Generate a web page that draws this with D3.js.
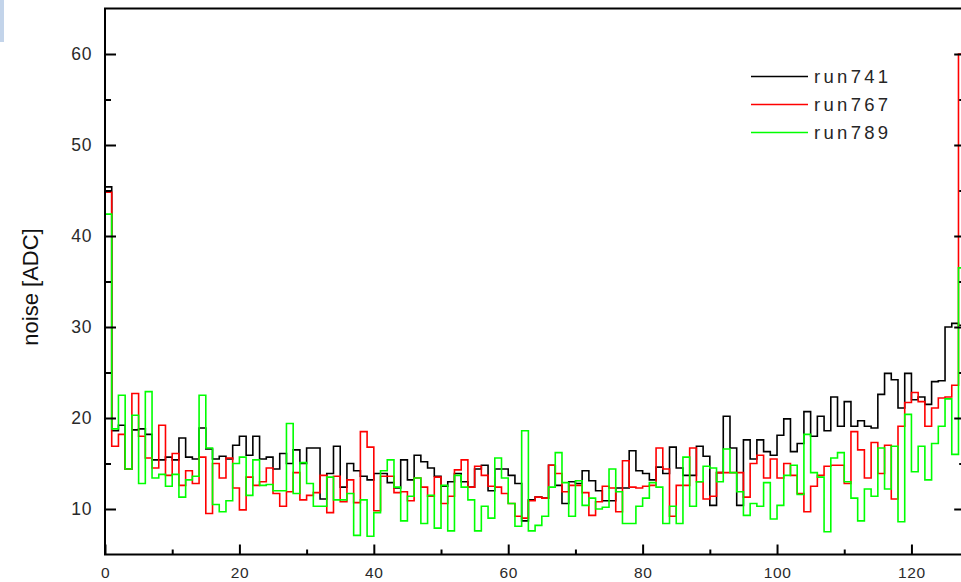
<!DOCTYPE html>
<html>
<head>
<meta charset="utf-8">
<script src="https://cdn.jsdelivr.net/npm/d3@7"></script>
<style>
  html, body { margin: 0; padding: 0; background: #fff; }
  svg { display: block; }
  .tick text { font-family: "Liberation Sans", Arial, sans-serif; }
</style>
</head>
<body>
<svg id="chart" width="961" height="582"></svg>
<script>
// Noise per channel for three runs (channel index 0..127)
const channels = d3.range(128);

const run741 = [45.4,18.6,19.2,14.4,18.7,18.8,18.2,15.4,15.4,15.7,15.4,17.8,15.7,15.5,18.9,16.6,
  15.5,15.8,15.5,17.0,18.0,15.9,18.0,15.5,15.7,14.4,16.1,15.0,16.5,15.0,16.7,16.7,
  11.1,13.9,16.9,12.4,15.0,14.2,13.6,13.2,13.9,13.9,12.9,12.3,15.4,13.2,15.9,15.2,
  14.5,13.6,12.5,13.0,13.9,13.0,12.4,14.4,14.8,12.0,14.4,14.4,13.7,12.8,8.7,11.0,
  11.3,11.2,14.8,12.6,10.6,13.0,12.8,14.2,13.1,12.0,10.9,10.9,12.3,12.3,16.4,14.2,
  13.9,13.2,14.6,13.9,16.8,14.5,13.7,13.7,16.9,15.8,10.4,14.0,20.2,16.7,10.4,17.6,
  15.5,17.6,16.3,15.9,18.1,19.9,16.3,17.2,20.7,18.0,20.2,18.6,22.3,19.1,21.8,19.1,
  19.7,19.1,18.9,22.6,24.9,24.2,21.1,24.9,22.0,22.3,21.5,24.0,24.1,30.0,30.4,30.2];

const run767 = [44.8,16.9,18.2,14.4,22.7,18.0,15.6,14.5,19.2,13.7,16.1,12.6,14.2,12.8,15.7,9.5,
  15.0,13.4,15.6,12.3,9.9,13.5,12.6,13.0,14.5,11.7,10.3,11.9,14.0,11.0,11.5,11.8,
  13.7,9.6,13.6,10.8,13.2,10.7,18.5,16.8,9.8,13.6,13.6,11.8,11.9,10.9,13.4,12.4,
  11.4,13.5,10.6,11.4,14.3,15.4,12.4,14.7,13.7,12.5,12.4,11.7,10.6,9.2,9.0,10.9,
  11.3,11.2,14.8,13.9,11.9,12.6,12.6,11.8,9.3,10.8,12.5,12.3,9.7,15.3,12.4,12.3,
  12.5,12.6,16.7,14.4,9.2,12.6,12.6,16.7,13.0,11.1,11.4,14.0,14.0,14.0,14.0,11.3,
  15.0,15.9,13.4,15.5,13.4,15.0,13.7,11.7,9.7,12.5,13.7,14.7,14.8,14.8,12.8,18.5,
  16.5,13.4,17.3,13.9,17.0,11.1,19.1,21.7,22.8,21.8,19.1,21.1,22.2,22.3,23.6,60.0];

const run789 = [42.4,18.8,22.5,14.4,20.3,12.8,22.9,13.4,13.8,12.5,13.8,11.3,13.2,13.6,22.5,16.7,
  10.5,9.7,10.9,15.0,15.7,11.5,15.4,12.6,12.7,12.0,12.0,19.4,11.7,15.1,12.8,10.3,
  10.3,13.5,11.0,11.0,11.7,7.1,11.0,7.0,9.6,14.2,15.4,12.4,8.7,11.4,13.4,8.4,
  11.5,7.9,12.6,7.6,13.7,12.4,11.0,7.6,10.3,9.0,15.6,13.4,10.6,8.1,18.6,7.6,
  8.2,9.2,12.4,16.2,12.9,9.2,13.1,10.4,11.2,10.0,10.2,14.4,11.9,8.4,8.4,10.3,
  11.2,12.9,12.4,8.4,10.3,8.4,15.7,10.3,13.0,14.7,14.5,13.0,16.6,14.0,11.9,9.3,
  10.6,10.3,12.9,8.9,10.4,13.7,14.8,11.6,18.2,14.0,13.5,7.5,15.6,16.2,13.0,11.2,
  8.7,12.2,11.4,16.7,12.2,16.9,8.6,20.4,14.1,16.9,13.2,17.2,19.1,22.1,16.0,36.5];

const seriesNames = ["run741", "run767", "run789"];
const seriesColors = ["#000000", "#ff0000", "#00ff00"];
const seriesValues = [run741, run767, run789];

const xMajorTicks = [0, 20, 40, 60, 80, 100, 120];
const xMinorTicks = [10, 30, 50, 70, 90, 110];
const yMajorTicks = [10, 20, 30, 40, 50, 60];
const yMinorTicks = [15, 25, 35, 45, 55];
const yTitle = "noise [ADC]";

(function draw() {
  const svg = d3.select("#chart");
  const W = 961, H = 582;

  // plot frame
  const pLeft = 105, pTop = 8.5, pBottom = 554.5;
  const x = d3.scaleLinear().domain([0, 128]).range([pLeft, 965.2]);
  const y = d3.scaleLinear().domain([5, 65]).range([pBottom, pTop]);
  const pRight = x(128);

  svg.append("rect").attr("width", W).attr("height", H).attr("fill", "#fff");

  // small blue block in the corner
  svg.append("rect").attr("x", 0).attr("y", 0).attr("width", 4).attr("height", 42)
    .attr("fill", "#c3d4ea");

  // step lines
  const line = d3.line()
    .x(d => x(d[0]))
    .y(d => y(d[1]))
    .curve(d3.curveStepAfter);

  seriesValues.forEach((vals, si) => {
    const pts = channels.map(i => [i, vals[i]]);
    pts.push([128, vals[127]]);
    svg.append("path")
      .datum(pts)
      .attr("fill", "none")
      .attr("stroke", seriesColors[si])
      .attr("stroke-width", 1.6)
      .attr("d", line);
  });

  // axes with inward ticks
  function styleAxis(g, size) {
    g.select(".domain").remove();
    g.selectAll(".tick line").attr("stroke", "#000").attr("stroke-width", 2);
    g.selectAll(".tick text").attr("fill", "#2a2a2a").attr("font-size", size)
      .attr("letter-spacing", 0.6);
  }

  const yAxisL = svg.append("g").attr("transform", `translate(${pLeft},0)`)
    .call(d3.axisLeft(y).tickValues(yMajorTicks).tickSize(-11).tickPadding(13).tickFormat(d3.format("d")));
  styleAxis(yAxisL, 17.5);
  const yAxisLm = svg.append("g").attr("transform", `translate(${pLeft},0)`)
    .call(d3.axisLeft(y).tickValues(yMinorTicks).tickSize(-6).tickFormat(""));
  styleAxis(yAxisLm, 17.5);

  const yAxisR = svg.append("g").attr("transform", `translate(${pRight},0)`)
    .call(d3.axisRight(y).tickValues(yMajorTicks).tickSize(-11).tickFormat(""));
  styleAxis(yAxisR, 17.5);
  const yAxisRm = svg.append("g").attr("transform", `translate(${pRight},0)`)
    .call(d3.axisRight(y).tickValues(yMinorTicks).tickSize(-6).tickFormat(""));
  styleAxis(yAxisRm, 17.5);

  const xAxisB = svg.append("g").attr("transform", `translate(0,${pBottom})`)
    .call(d3.axisBottom(x).tickValues(xMajorTicks).tickSize(-10).tickPadding(12).tickFormat(d3.format("d")));
  styleAxis(xAxisB, 15.5);
  const xAxisBm = svg.append("g").attr("transform", `translate(0,${pBottom})`)
    .call(d3.axisBottom(x).tickValues(xMinorTicks).tickSize(-5).tickFormat(""));
  styleAxis(xAxisBm, 15.5);

  // frame
  svg.append("rect")
    .attr("x", pLeft).attr("y", pTop)
    .attr("width", pRight - pLeft).attr("height", pBottom - pTop)
    .attr("fill", "none").attr("stroke", "#000").attr("stroke-width", 2);

  // y title
  svg.append("text")
    .attr("transform", "translate(38,287) rotate(-90)")
    .attr("text-anchor", "middle")
    .attr("font-family", "Liberation Sans, Arial, sans-serif")
    .attr("font-size", 22)
    .attr("fill", "#111")
    .text(yTitle);

  // legend
  const legend = svg.append("g");
  seriesNames.forEach((name, i) => {
    const ly = 76.5 + i * 28;
    legend.append("line")
      .attr("x1", 751).attr("x2", 808)
      .attr("y1", ly).attr("y2", ly)
      .attr("stroke", seriesColors[i]).attr("stroke-width", 1.4);
    legend.append("text")
      .attr("x", 814).attr("y", ly + 6.8)
      .attr("font-family", "Liberation Sans, Arial, sans-serif")
      .attr("font-size", 18.5)
      .attr("letter-spacing", 3.3)
      .attr("fill", "#262626")
      .text(name);
  });
})();
</script>
</body>
</html>
